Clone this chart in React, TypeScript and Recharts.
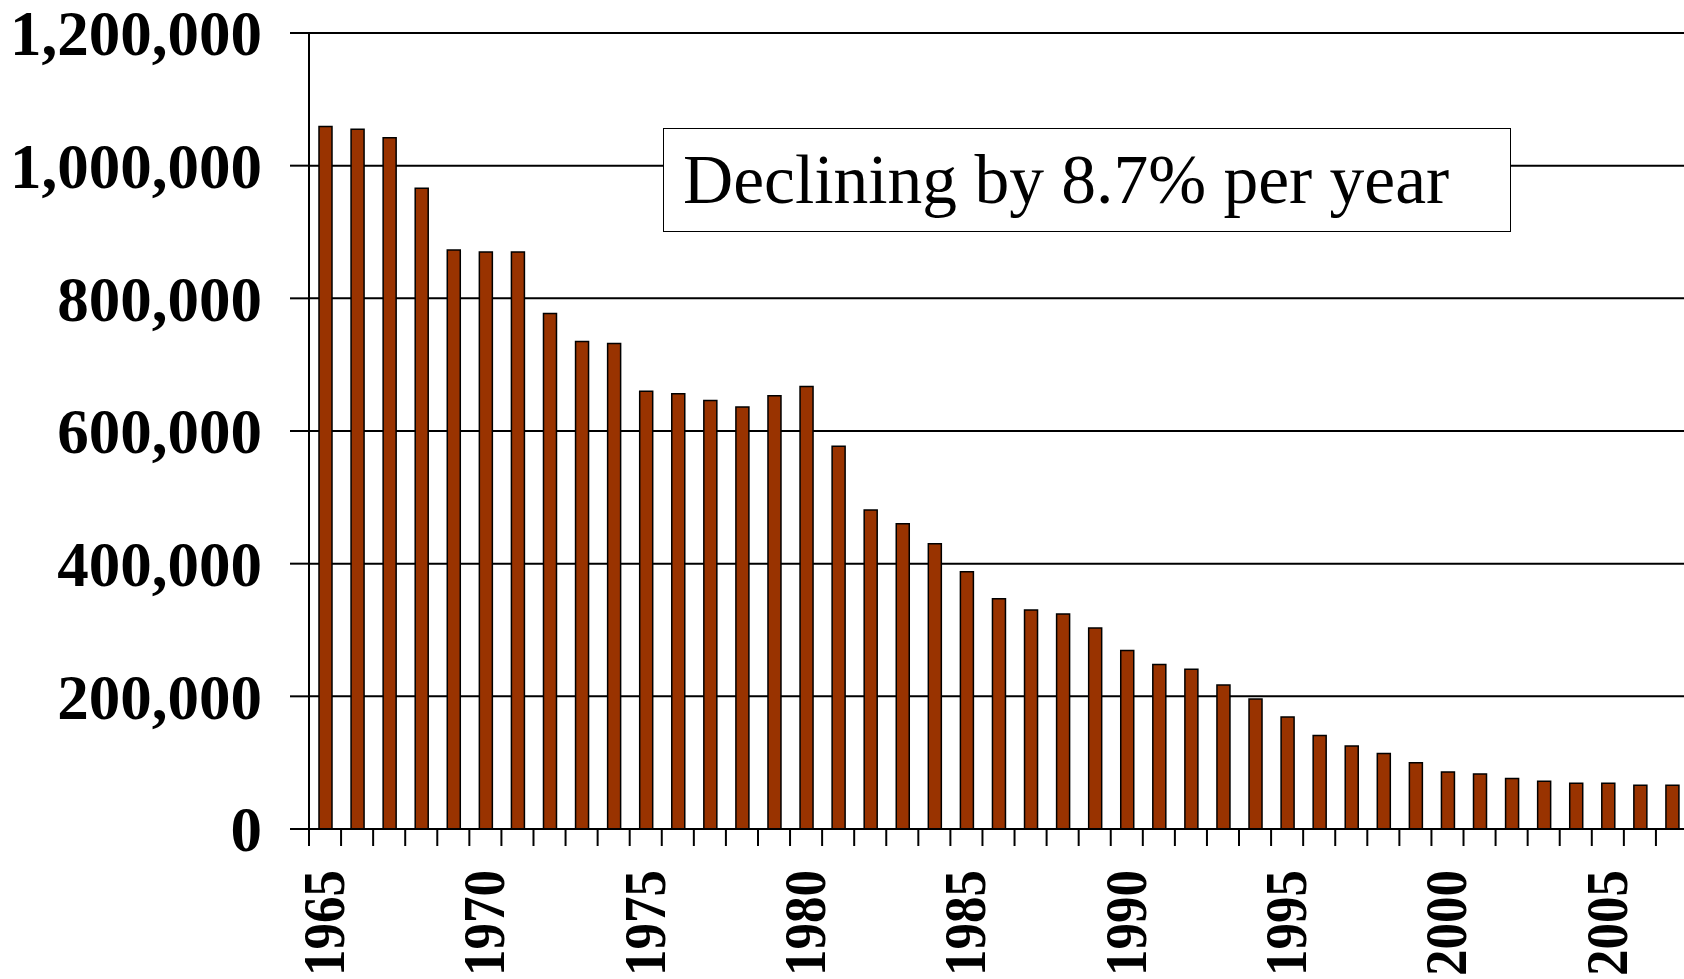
import React from 'react';
import { BarChart, Bar, XAxis, YAxis, CartesianGrid } from 'recharts';

const years = [
  1965, 1966, 1967, 1968, 1969, 1970, 1971, 1972, 1973, 1974,
  1975, 1976, 1977, 1978, 1979, 1980, 1981, 1982, 1983, 1984,
  1985, 1986, 1987, 1988, 1989, 1990, 1991, 1992, 1993, 1994,
  1995, 1996, 1997, 1998, 1999, 2000, 2001, 2002, 2003, 2004,
  2005, 2006, 2007,
];

const counts = [
  1059000, 1055000, 1042000, 966000, 873000, 870000, 870000, 777000, 735000, 732000,
  660000, 656000, 646000, 636000, 653000, 667000, 577000, 481000, 460000, 430000,
  388000, 347000, 330000, 324000, 303000, 269000, 248000, 241000, 217000, 196000,
  169000, 141000, 125000, 114000, 100000, 86000, 83000, 76000, 72000, 69000,
  69000, 66000, 66000,
];

const yTicks = [0, 200000, 400000, 600000, 800000, 1000000, 1200000];

const note = 'Declining by 8.7% per year';

const data = years.map((year, i) => ({ year, count: counts[i] }));

// layout
const CHART_W = 1700;
const CHART_H = 979;
const AXIS_W = 309;
const X_AXIS_H = 150;
const MARGIN = { top: 33, right: 12, left: 0, bottom: 0 };
const PLOT_W = CHART_W - AXIS_W - MARGIN.left - MARGIN.right;
const BAND = PLOT_W / years.length;

const SERIF = '"Liberation Serif", "Times New Roman", Times, serif';

const YearTick = (props: any) => {
  const { x, y, payload } = props;
  const year = Number(payload.value);
  const left = x - BAND / 2;
  return (
    <g>
      <line x1={left} y1={y} x2={left} y2={y + 17} stroke="#000" strokeWidth={2} />
      {year % 5 === 0 && (
        <text
          transform={`translate(${x + 19}, ${y + 41}) rotate(-90) scale(1, 1.1)`}
          textAnchor="end"
          fontFamily={SERIF}
          fontWeight="bold"
          fontSize={53}
          fill="#000"
        >
          {year}
        </text>
      )}
    </g>
  );
};

export default function App() {
  return (
    <div
      style={{
        position: 'absolute',
        left: 0,
        top: 0,
        width: 1684,
        height: 979,
        overflow: 'hidden',
        background: '#fff',
      }}
    >
      <BarChart width={CHART_W} height={CHART_H} data={data} margin={MARGIN}>
        <CartesianGrid vertical={false} stroke="#000" strokeWidth={2} />
        <XAxis
          dataKey="year"
          height={X_AXIS_H}
          interval={0}
          tickLine={false}
          tickSize={0}
          tickMargin={0}
          axisLine={{ stroke: '#000', strokeWidth: 2 }}
          tick={<YearTick />}
        />
        <YAxis
          width={AXIS_W}
          domain={[0, 1200000]}
          ticks={yTicks}
          interval={0}
          tickSize={19}
          tickMargin={28}
          tickLine={{ stroke: '#000', strokeWidth: 2 }}
          axisLine={{ stroke: '#000', strokeWidth: 2 }}
          tickFormatter={(v: number) => v.toLocaleString('en-US')}
          tick={{ fill: '#000', fontFamily: SERIF, fontWeight: 'bold', fontSize: 63 }}
        />
        <Bar
          dataKey="count"
          fill="#993300"
          stroke="#000"
          strokeWidth={1.5}
          barSize={13}
          isAnimationActive={false}
        />
      </BarChart>
      <div
        style={{
          position: 'absolute',
          left: 663,
          top: 128,
          width: 848,
          height: 104,
          boxSizing: 'border-box',
          border: '1.5px solid #000',
          background: '#fff',
          display: 'flex',
          alignItems: 'center',
          paddingLeft: 19,
          fontFamily: SERIF,
          fontSize: 69.5,
          color: '#000',
          whiteSpace: 'nowrap',
        }}
      >
        {note}
      </div>
    </div>
  );
}
